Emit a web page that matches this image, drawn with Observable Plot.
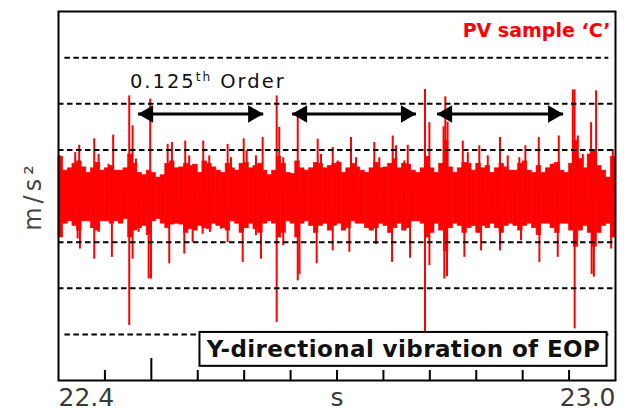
<!DOCTYPE html>
<html>
<head>
<meta charset="utf-8">
<script src="https://cdn.jsdelivr.net/npm/d3@7"></script>
<script src="https://cdn.jsdelivr.net/npm/@observablehq/plot@0.6"></script>
<style>
  body { margin: 0; background: #fff; }
  #chart { width: 624px; height: 412px; }
</style>
</head>
<body>
<div id="chart"></div>
<script>
// Y-direction acceleration of the EOP, PV sample C, 22.4 s – 23.0 s.

// Dense vibration band: upper / lower envelope per 5 ms slice starting at t0
const t0 = 22.4;
const dt = 0.005;
const bandHi = [
  0.85,0.55,0.6,0.7,0.75,0.62,0.5,0.6,0.72,0.55,
  0.6,0.65,0.55,0.55,0.6,0.9,0.7,0.5,0.45,0.55,
  0.5,0.4,0.45,0.7,0.75,0.6,0.62,0.7,0.65,0.68,
  0.5,0.75,0.7,0.62,0.55,0.5,0.7,0.6,0.55,0.7,
  0.72,0.6,0.65,0.7,0.55,0.45,0.55,0.85,0.7,0.5,
  0.48,0.75,0.6,0.55,0.6,0.72,0.7,0.6,0.65,0.7,
  0.72,0.5,0.6,0.7,0.62,0.55,0.5,0.6,0.72,0.6,
  0.62,0.7,0.8,0.6,0.7,0.68,0.55,0.5,0.6,0.85,
  0.6,0.5,0.7,1.2,0.62,0.5,0.6,0.72,0.7,0.55,
  0.7,0.6,0.65,0.5,0.6,0.7,0.62,0.55,0.55,0.7,
  0.75,0.55,0.5,0.65,0.5,0.6,0.68,0.72,0.55,0.5,
  0.7,1.2,0.8,0.6,0.9,1.0,0.65,0.55,0.4,0.85
];
const bandLo = [
  -0.9,-0.6,-0.55,-0.65,-0.75,-0.55,-0.55,-0.7,-0.75,-0.55,
  -0.55,-0.6,-0.55,-0.6,-0.5,-0.9,-0.75,-0.7,-0.65,-0.85,
  -0.55,-0.5,-0.6,-0.7,-0.62,-0.6,-0.62,-0.8,-0.72,-0.75,
  -0.65,-0.7,-0.72,-0.6,-0.65,-0.7,-0.75,-0.55,-0.6,-0.8,
  -0.7,-0.6,-0.72,-0.8,-0.6,-0.55,-0.6,-0.9,-0.8,-0.55,
  -0.6,-0.9,-0.6,-0.55,-0.65,-0.8,-0.65,-0.6,-0.75,-0.65,
  -0.6,-0.75,-0.7,-0.55,-0.6,-0.6,-0.7,-0.75,-0.7,-0.6,
  -0.65,-0.8,-0.7,-0.6,-0.75,-0.7,-0.55,-0.55,-0.6,-0.9,
  -0.8,-0.6,-0.75,-1.2,-0.7,-0.6,-0.65,-0.8,-0.7,-0.65,
  -0.8,-0.65,-0.7,-0.6,-0.7,-0.8,-0.65,-0.6,-0.65,-0.75,
  -0.65,-0.6,-0.7,-0.85,-0.6,-0.6,-0.7,-0.8,-0.6,-0.6,
  -0.75,-1.1,-0.75,-0.65,-0.8,-1.1,-0.8,-0.65,-0.6,-0.9
];

// Narrow positive peaks (time s, m/s²)
const peakUpT = [22.4015,22.4180,22.4223,22.4385,22.4432,22.4540,22.4589,22.4762,22.4798,22.4834,
  22.4988,22.5176,22.5222,22.5365,22.5408,22.5559,22.5624,22.5822,22.5858,22.5995,
  22.6027,22.6127,22.6199,22.6350,22.6378,22.6421,22.6577,22.6792,22.6828,22.6954,
  22.7008,22.7151,22.7205,22.7402,22.7456,22.7600,22.7636,22.7725,22.7762,22.7948,
  22.7995,22.8148,22.8167,22.8191,22.8355,22.8409,22.8533,22.8624,22.8756,22.8839,
  22.8964,22.9029,22.9173,22.9324,22.9389,22.9540,22.9559,22.9594,22.9648,22.9737,
  22.9791,22.9971];
const peakUpV = [0.87,0.94,1.10,1.24,0.90,0.69,1.32,2.17,1.52,0.80,
  2.10,1.12,1.16,1.19,0.87,1.19,0.87,1.12,0.83,1.24,
  0.98,0.87,1.27,2.17,1.49,0.83,1.70,1.23,0.90,1.05,
  0.76,1.27,0.83,1.16,0.83,1.30,1.09,0.76,1.10,2.31,
  1.59,1.50,2.15,1.60,1.19,0.94,1.09,0.87,1.27,0.87,
  0.83,1.09,1.27,0.69,1.30,2.30,2.30,1.30,0.90,1.59,
  2.28,1.01];

// Narrow negative peaks (time s, m/s²)
const peakDownT = [22.4015,22.4206,22.4231,22.4385,22.4432,22.4575,22.4762,22.4798,22.4863,22.4971,
  22.4996,22.5193,22.5355,22.5445,22.5553,22.5631,22.5750,22.5822,22.5984,22.6127,
  22.6181,22.6350,22.6421,22.6577,22.6596,22.6781,22.6954,22.7133,22.7420,22.7593,
  22.7787,22.7948,22.7995,22.8156,22.8185,22.8372,22.8552,22.8756,22.8982,22.9180,
  22.9378,22.9560,22.9743,22.9767,22.9953];
const peakDownV = [-0.90,-0.93,-1.15,-1.37,-0.79,-1.33,-2.81,-1.37,-0.79,-1.80,
  -1.80,-1.47,-1.26,-1.01,-0.83,-0.79,-0.72,-1.01,-1.44,-0.86,
  -1.37,-2.74,-1.08,-1.84,-1.70,-1.47,-1.19,-1.22,-1.05,-1.44,
  -1.35,-2.95,-1.51,-1.80,-1.75,-1.33,-1.19,-1.19,-0.97,-1.44,
  -1.33,-2.88,-1.70,-1.76,-1.15];

// Axis and annotation content
const xDomain = [22.4, 23.0];
const yDomain = [-4, 4];
const xEndLabels = [22.4, 23.0];
const xUnit = "s";
const yUnit = "m/s²";
const minorTicks = [22.45, 22.55, 22.6, 22.65, 22.7, 22.75, 22.8, 22.85, 22.9, 22.95];
const majorTicks = [22.5];
const gridInner = [-2, -1, 1, 2];
const gridOuter = [-3, 3];
const gridOuterSpan = [22.4069, 22.9928];
const orderSpans = [[22.4857, 22.6205], [22.6516, 22.7851], [22.8078, 22.9436]];
const orderLevel = 1.78;
const orderParts = ["0.125", "th", " Order"];
const orderLabelAt = {t: 22.4769, v: 2.47};
const sampleLabel = "PV sample ‘C’";
const captionText = "Y-directional vibration of EOP";
const captionBox = {x1: 22.5524, x2: 22.9909, y1: -2.958, y2: -3.693};

const RED = "#ff0000";
const AXIS_GREY = "#3a3a3a";

const band = bandHi.map((hi, i) => ({a: t0 + i * dt, b: t0 + (i + 1) * dt, hi, lo: bandLo[i]}));
const peaksUp = peakUpT.map((t, i) => ({t, v: peakUpV[i]}));
const peaksDown = peakDownT.map((t, i) => ({t, v: peakDownV[i]}));
const arrows = orderSpans.map(([a, b]) => ({a, b}));

const unitText = {frameAnchor: "bottom", lineAnchor: "top", dy: 8, fontSize: 25, fontFamily: "DejaVu Sans", fill: AXIS_GREY};

const chart = Plot.plot({
  width: 624,
  height: 412,
  marginLeft: 58,
  marginRight: 9,
  marginTop: 11,
  marginBottom: 32,
  x: {domain: xDomain},
  y: {domain: yDomain, axis: null},
  style: {background: "white", overflow: "visible"},
  marks: [
    // signal
    Plot.rect(band, {x1: "a", x2: "b", y1: "lo", y2: "hi", fill: RED, stroke: RED, strokeWidth: 0.6}),
    Plot.ruleX(peaksUp, {x: "t", y1: 0, y2: "v", stroke: RED, strokeWidth: 2}),
    Plot.ruleX(peaksDown, {x: "t", y1: 0, y2: "v", stroke: RED, strokeWidth: 2}),
    // dashed reference levels
    Plot.ruleY(gridInner, {y: d => d, stroke: "black", strokeWidth: 2, strokeDasharray: "5.5,3.5"}),
    Plot.ruleY(gridOuter, {y: d => d, x1: gridOuterSpan[0], x2: gridOuterSpan[1], stroke: "black", strokeWidth: 2, strokeDasharray: "5.5,3.5"}),
    // period arrows
    Plot.link(arrows, {x1: "a", x2: "b", y1: orderLevel, y2: orderLevel, stroke: "black", strokeWidth: 3}),
    Plot.dot(arrows, {x: "a", y: orderLevel, symbol: "triangle", r: 6.5, rotate: -90, dx: 10, fill: "black"}),
    Plot.dot(arrows, {x: "b", y: orderLevel, symbol: "triangle", r: 6.5, rotate: 90, dx: -10, fill: "black"}),
    Plot.text([orderParts.join("")], {x: orderLabelAt.t, y: orderLabelAt.v, textAnchor: "start", fontSize: 19.5, fontFamily: "DejaVu Sans", fill: "#111"}),
    // caption box
    Plot.rect([captionBox], {x1: "x1", x2: "x2", y1: "y1", y2: "y2", fill: "white", stroke: "black", strokeWidth: 2}),
    Plot.text([captionText], {x: (captionBox.x1 + captionBox.x2) / 2, y: (captionBox.y1 + captionBox.y2) / 2, fontSize: 23, fontWeight: "bold", fontFamily: "DejaVu Sans", fill: "#111"}),
    // sample label
    Plot.text([sampleLabel], {frameAnchor: "top-right", textAnchor: "end", lineAnchor: "top", dx: -5, dy: 12, fontSize: 19, fontWeight: "bold", fontFamily: "DejaVu Sans", fill: RED}),
    // frame and inward ticks
    Plot.frame({stroke: "black", strokeWidth: 2}),
    Plot.axisX(minorTicks, {tickSize: 10, dy: -10, fill: "none", label: null, strokeWidth: 2}),
    Plot.axisX(majorTicks, {tickSize: 22, dy: -22, fill: "none", label: null, strokeWidth: 2}),
    // end labels and units
    Plot.text([xEndLabels[0]], {...unitText, x: d => d, text: d => d.toFixed(1), textAnchor: "start"}),
    Plot.text([xEndLabels[1]], {...unitText, x: d => d, text: d => d.toFixed(1), textAnchor: "end"}),
    Plot.text([xUnit], unitText),
    Plot.text([yUnit], {frameAnchor: "left", textAnchor: "middle", rotate: -90, dx: -25, dy: 0, fontSize: 24, fontFamily: "DejaVu Sans", fill: "#444"})
  ]
});

const root = d3.select(chart);

// superscript ordinal in the order label
root.selectAll("text").filter(function () { return this.textContent === orderParts.join(""); })
  .style("letter-spacing", "2px")
  .each(function () {
    const t = d3.select(this);
    t.text(null);
    t.append("tspan").text(orderParts[0]);
    t.append("tspan").attr("font-size", 12).attr("dy", -7).text(orderParts[1]);
    t.append("tspan").attr("dy", 7).text(orderParts[2]);
  });
root.selectAll("text").filter(function () { return this.textContent === captionText; })
  .style("letter-spacing", "0.4px");
root.selectAll("text").filter(function () { return this.textContent === yUnit; })
  .style("letter-spacing", "4px");

document.getElementById("chart").appendChild(chart);
</script>
</body>
</html>
